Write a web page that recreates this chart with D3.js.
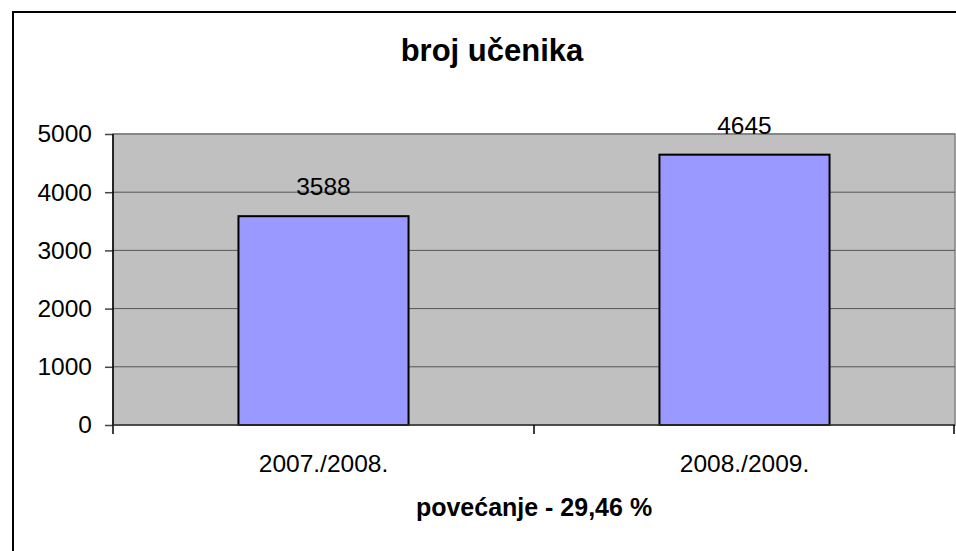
<!DOCTYPE html>
<html>
<head>
<meta charset="utf-8">
<script src="https://cdn.jsdelivr.net/npm/d3@7"></script>
<style>
  body { margin: 0; background: #fff; }
  svg { display: block; font-family: "Liberation Sans", Arial, sans-serif; }
</style>
</head>
<body>
<svg></svg>
<script>
// Data
var categories = ["2007./2008.", "2008./2009."];
var values = [3588, 4645];
var yTicks = [0, 1000, 2000, 3000, 4000, 5000];
var chartTitle = "broj učenika";
var xTitle = "povećanje - 29,46 %";

// Layout
var svgWidth = 956,
    svgHeight = 551,
    plot = {left: 113, top: 134, right: 955, bottom: 425},
    labelSize = "24.5px";

var svg = d3.select("svg")
  .attr("width", svgWidth)
  .attr("height", svgHeight);

// outer chart frame
svg.append("rect")
  .attr("x", 13).attr("y", 12)
  .attr("width", 960).attr("height", 560)
  .attr("fill", "#fff")
  .attr("stroke", "#000")
  .attr("stroke-width", 2);

var x = d3.scaleBand()
  .domain(categories)
  .range([plot.left, plot.right])
  .paddingInner(0.596)
  .paddingOuter(0.298);

var xBand = d3.scaleBand()
  .domain(categories)
  .range([plot.left, plot.right]);

var y = d3.scaleLinear()
  .domain([0, 5000])
  .range([plot.bottom, plot.top]);

// plot area
svg.append("rect")
  .attr("x", plot.left).attr("y", plot.top)
  .attr("width", plot.right - plot.left)
  .attr("height", plot.bottom - plot.top)
  .attr("fill", "#c0c0c0")
  .attr("stroke", "#808080")
  .attr("stroke-width", 1.5);

// gridlines
svg.append("g")
  .selectAll("line")
  .data(yTicks.slice(1))
  .enter().append("line")
  .attr("x1", plot.left).attr("x2", plot.right)
  .attr("y1", function (d) { return y(d); })
  .attr("y2", function (d) { return y(d); })
  .attr("stroke", function (d) { return d === 5000 ? "#808080" : "#555"; })
  .attr("stroke-width", function (d) { return d === 5000 ? 1.5 : 1; });

// bars
svg.append("g")
  .selectAll("rect")
  .data(values)
  .enter().append("rect")
  .attr("x", function (d, i) { return x(categories[i]); })
  .attr("y", function (d) { return y(d); })
  .attr("width", x.bandwidth())
  .attr("height", function (d) { return y(0) - y(d); })
  .attr("fill", "#9999ff")
  .attr("stroke", "#000")
  .attr("stroke-width", 2);

// value labels
svg.append("g")
  .selectAll("text")
  .data(values)
  .enter().append("text")
  .attr("x", function (d, i) { return x(categories[i]) + x.bandwidth() / 2; })
  .attr("y", function (d) { return y(d) - 21; })
  .attr("text-anchor", "middle")
  .style("font-size", labelSize)
  .text(function (d) { return d; });

// y axis
var yAxis = svg.append("g")
  .attr("transform", "translate(" + plot.left + ",0)")
  .call(d3.axisLeft(y).tickValues(yTicks).tickFormat(d3.format("d"))
    .tickSize(8).tickPadding(13));
yAxis.select(".domain").remove();
yAxis.selectAll("line").attr("stroke", "#444").attr("stroke-width", 1.5);
yAxis.selectAll("text")
  .style("font-size", labelSize)
  .style("font-family", "Liberation Sans, Arial, sans-serif")
  .attr("fill", "#000");

svg.append("line")
  .attr("x1", plot.left).attr("x2", plot.left)
  .attr("y1", plot.top).attr("y2", plot.bottom + 9)
  .attr("stroke", "#000").attr("stroke-width", 1.5);

// x axis
svg.append("line")
  .attr("x1", plot.left).attr("x2", plot.right)
  .attr("y1", plot.bottom).attr("y2", plot.bottom)
  .attr("stroke", "#333").attr("stroke-width", 1.5);

var sepTicks = [plot.left + xBand.bandwidth(), plot.right - 1];
svg.append("g")
  .selectAll("line")
  .data(sepTicks)
  .enter().append("line")
  .attr("x1", function (d) { return d; }).attr("x2", function (d) { return d; })
  .attr("y1", plot.bottom).attr("y2", plot.bottom + 9)
  .attr("stroke", "#000").attr("stroke-width", 1.5);

svg.append("g")
  .selectAll("text")
  .data(categories)
  .enter().append("text")
  .attr("x", function (d) { return xBand(d) + xBand.bandwidth() / 2; })
  .attr("y", 472)
  .attr("text-anchor", "middle")
  .style("font-size", labelSize)
  .text(function (d) { return d; });

// titles
svg.append("text")
  .attr("x", 492).attr("y", 61)
  .attr("text-anchor", "middle")
  .style("font-size", "31px")
  .style("font-weight", 700)
  .text(chartTitle);

svg.append("text")
  .attr("x", 534).attr("y", 516)
  .attr("text-anchor", "middle")
  .style("font-size", "25px")
  .style("font-weight", 700)
  .text(xTitle);
</script>
</body>
</html>
